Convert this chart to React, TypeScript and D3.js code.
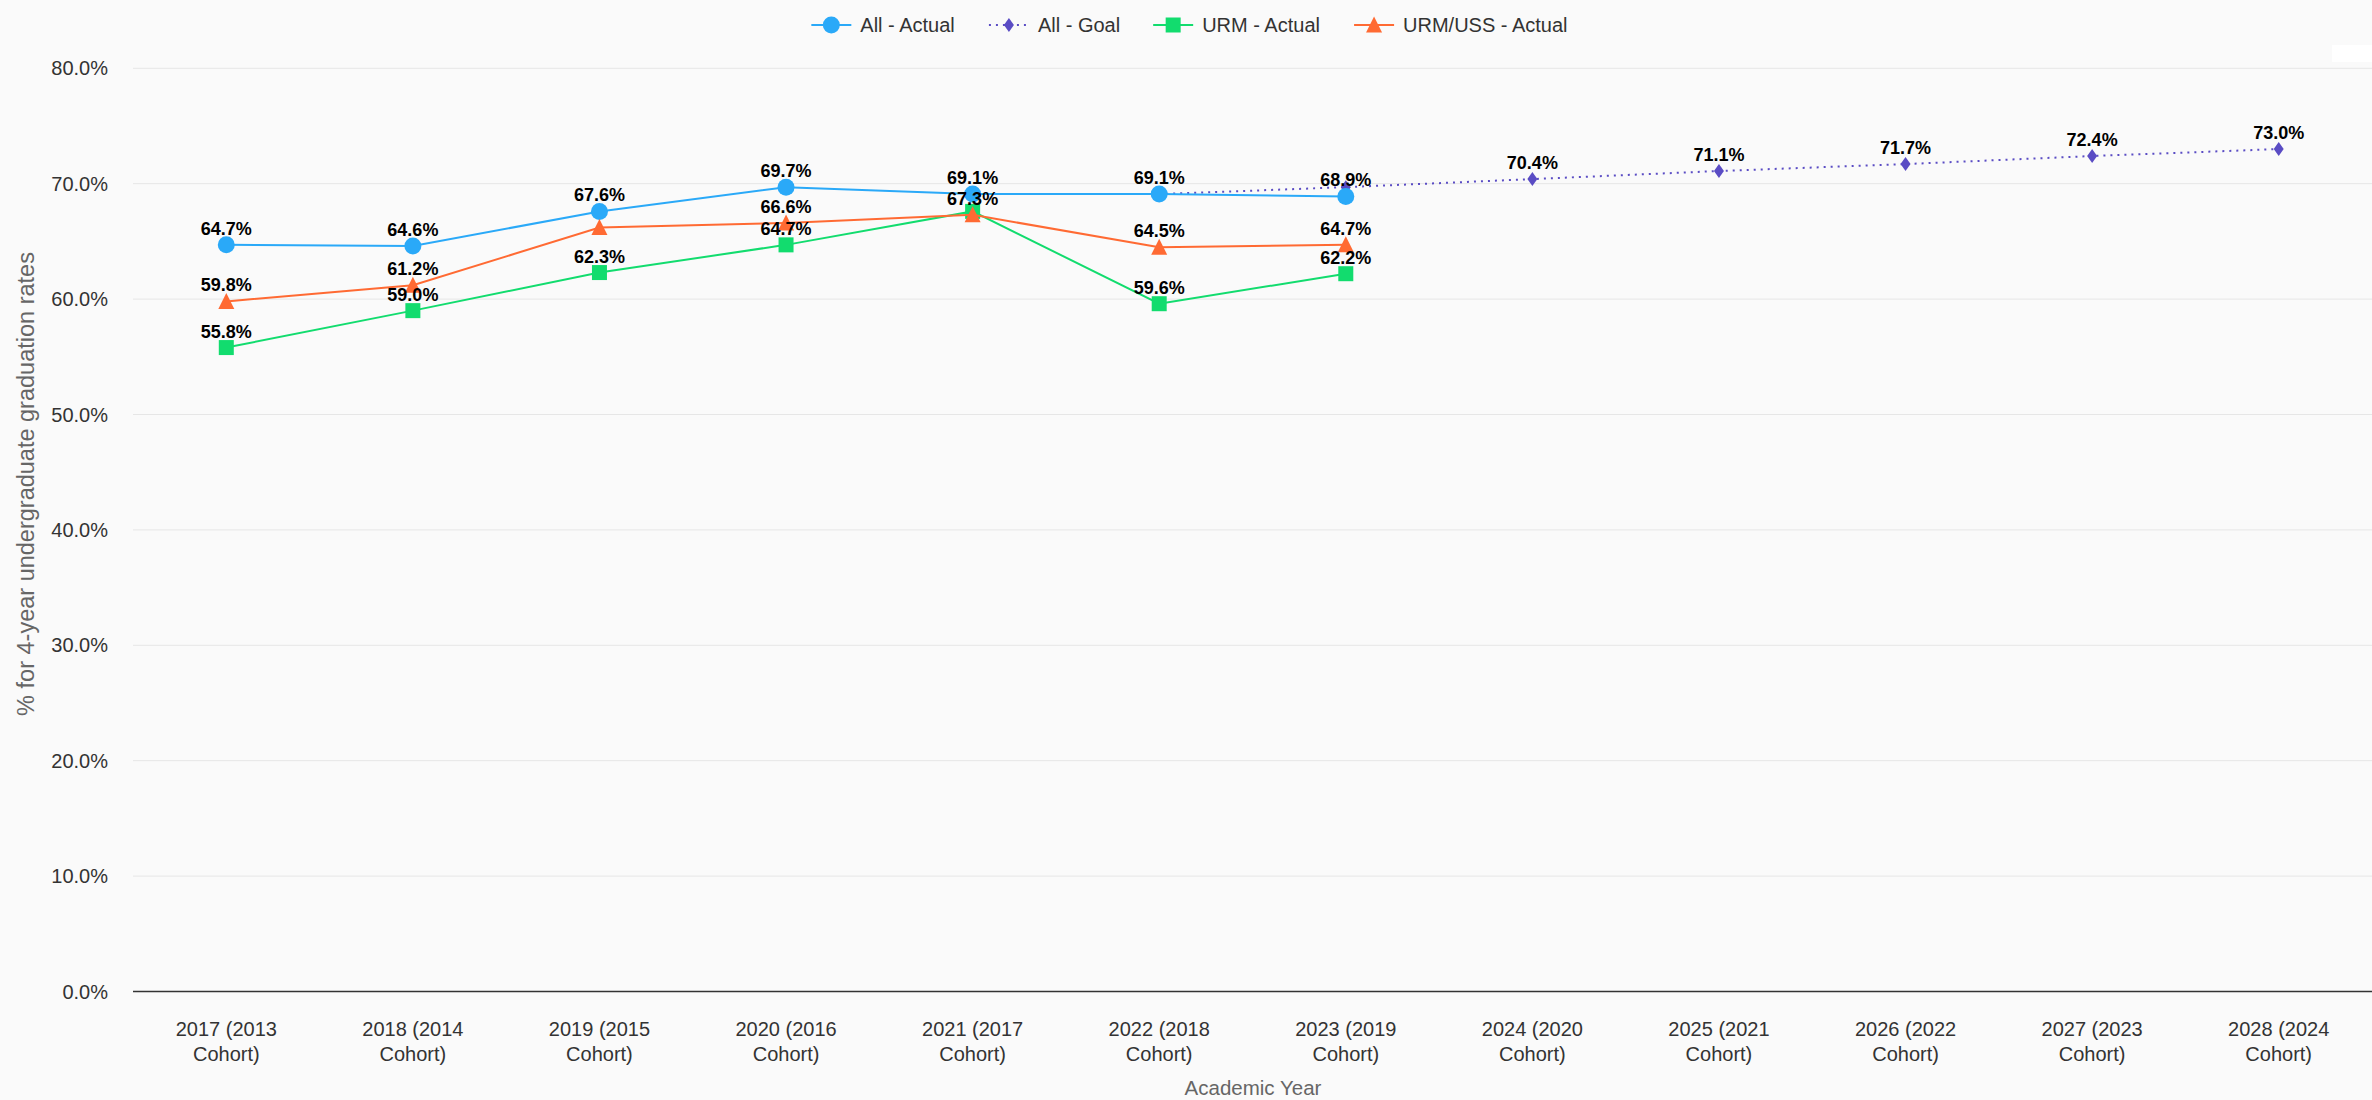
import { useMemo } from "react";
import * as d3 from "d3";

const categories = [
  "2017 (2013 Cohort)",
  "2018 (2014 Cohort)",
  "2019 (2015 Cohort)",
  "2020 (2016 Cohort)",
  "2021 (2017 Cohort)",
  "2022 (2018 Cohort)",
  "2023 (2019 Cohort)",
  "2024 (2020 Cohort)",
  "2025 (2021 Cohort)",
  "2026 (2022 Cohort)",
  "2027 (2023 Cohort)",
  "2028 (2024 Cohort)",
];

const allActual = [64.7, 64.6, 67.6, 69.7, 69.1, 69.1, 68.9, null, null, null, null, null];
const allGoal = [null, null, null, null, null, 69.1, 69.7, 70.4, 71.1, 71.7, 72.4, 73.0];
const urmActual = [55.8, 59.0, 62.3, 64.7, 67.6, 59.6, 62.2, null, null, null, null, null];
const urmUssActual = [59.8, 61.2, 66.2, 66.6, 67.3, 64.5, 64.7, null, null, null, null, null];

const yTicks = [0, 10, 20, 30, 40, 50, 60, 70, 80];

const W = 2372;
const H = 1100;
const FONT = "'Liberation Sans', Arial, Helvetica, sans-serif";

type Sym = "circle" | "diamond" | "square" | "triangle";

const series: { name: string; values: (number | null)[]; color: string; symbol: Sym; dash?: string }[] = [
  { name: "All - Actual", values: allActual, color: "#2aa9f8", symbol: "circle" },
  { name: "All - Goal", values: allGoal, color: "#5a4cc4", symbol: "diamond", dash: "2,5" },
  { name: "URM - Actual", values: urmActual, color: "#12dc6e", symbol: "square" },
  { name: "URM/USS - Actual", values: urmUssActual, color: "#ff6a33", symbol: "triangle" },
];

// draw order: goal underneath, then the actual series
const drawOrder = [1, 0, 2, 3];

function marker(sym: Sym, x: number, y: number, color: string, key: string) {
  if (sym === "circle") return <circle key={key} cx={x} cy={y} r={8.5} fill={color} />;
  if (sym === "square")
    return <rect key={key} x={x - 7.5} y={y - 7.5} width={15} height={15} fill={color} />;
  if (sym === "triangle")
    return <path key={key} d={`M${x},${y - 8.5}L${x + 8},${y + 7.5}L${x - 8},${y + 7.5}Z`} fill={color} />;
  return <path key={key} d={`M${x},${y - 7}L${x + 5},${y}L${x},${y + 7}L${x - 5},${y}Z`} fill={color} />;
}

export default function App() {
  const x = d3.scalePoint<string>().domain(categories).range([133, W]).padding(0.5);
  const y = d3.scaleLinear().domain([0, 80]).range([991.5, 68.3]);
  const fmt = (v: number) => `${v.toFixed(1)}%`;

  const measure = useMemo(() => {
    const ctx = document.createElement("canvas").getContext("2d")!;
    return (t: string, font: string) => {
      ctx.font = font;
      return ctx.measureText(t).width;
    };
  }, []);

  // data labels with overlap hiding (earlier series win)
  const labelSize = 18;
  const labels: { x: number; y: number; text: string; w: number }[] = [];
  series.forEach((s) => {
    s.values.forEach((v, i) => {
      if (v == null) return;
      const cx = x(categories[i])!;
      const by = y(v) - 10;
      const text = fmt(v);
      const w = measure(text, `bold ${labelSize}px ${FONT}`);
      const box = { x0: cx - w / 2, x1: cx + w / 2, y0: by - 19, y1: by };
      const hit = labels.some((l) => {
        const b = { x0: l.x - l.w / 2, x1: l.x + l.w / 2, y0: l.y - 19, y1: l.y };
        return box.x0 < b.x1 && box.x1 > b.x0 && box.y0 < b.y1 && box.y1 > b.y0;
      });
      if (!hit) labels.push({ x: cx, y: by, text, w });
    });
  });

  // legend layout
  const legendFont = `20px ${FONT}`;
  const itemWidths = series.map((s) => 49 + measure(s.name, legendFont));
  const gap = 33;
  const total = d3.sum(itemWidths) + gap * (series.length - 1);
  let lx = 1190 - total / 2;
  const legendItems = series.map((s, i) => {
    const start = lx;
    lx += itemWidths[i] + gap;
    return { s, start };
  });

  const line = d3
    .line<number | null>()
    .defined((d) => d != null)
    .x((_, i) => x(categories[i])!)
    .y((d) => y(d as number));

  return (
    <svg
      width={W}
      height={H}
      style={{ position: "absolute", left: 0, top: 0, fontFamily: FONT }}
    >
      <rect width={W} height={H} fill="#fafafa" />
      <rect x={2332} y={45} width={40} height={17} fill="#ffffff" />

      {/* legend */}
      {legendItems.map(({ s, start }) => (
        <g key={s.name}>
          <line
            x1={start}
            x2={start + 40}
            y1={25}
            y2={25}
            stroke={s.color}
            strokeWidth={2}
            strokeDasharray={s.dash}
          />
          {marker(s.symbol, start + 20, 25, s.color, "m")}
          <text x={start + 49} y={32} fontSize={20} fill="#333333">
            {s.name}
          </text>
        </g>
      ))}

      {/* grid */}
      {yTicks.map((t) => (
        <g key={t}>
          {t > 0 && <line x1={133} x2={W} y1={y(t)} y2={y(t)} stroke="#e6e6e6" strokeWidth={1} />}
          <text x={108} y={y(t) + 7} fontSize={20} textAnchor="end" fill="#333333">
            {fmt(t)}
          </text>
        </g>
      ))}
      <line x1={133} x2={W} y1={y(0)} y2={y(0)} stroke="#333333" strokeWidth={1.5} />

      {/* x labels */}
      {categories.map((c) => {
        const [a, b] = c.split(" Cohort");
        return (
          <text key={c} x={x(c)} y={1036} fontSize={20} textAnchor="middle" fill="#333333">
            <tspan x={x(c)}>{a}</tspan>
            <tspan x={x(c)} dy={25}>{"Cohort" + b}</tspan>
          </text>
        );
      })}

      <text x={1253} y={1095} fontSize={20.5} textAnchor="middle" fill="#666666">
        Academic Year
      </text>
      <text
        transform="translate(34,484) rotate(-90)"
        fontSize={23.5}
        textAnchor="middle"
        fill="#666666"
      >
        % for 4-year undergraduate graduation rates
      </text>

      {/* series */}
      {drawOrder.map((si) => {
        const s = series[si];
        return (
          <g key={s.name}>
            <path
              d={line(s.values) || ""}
              fill="none"
              stroke={s.color}
              strokeWidth={2}
              strokeDasharray={s.dash}
            />
            {s.values.map((v, i) =>
              v == null ? null : marker(s.symbol, x(categories[i])!, y(v), s.color, String(i))
            )}
          </g>
        );
      })}

      {/* data labels */}
      {labels.map((l, i) => (
        <text
          key={i}
          x={l.x}
          y={l.y}
          fontSize={labelSize}
          fontWeight="bold"
          textAnchor="middle"
          fill="#000000"
        >
          {l.text}
        </text>
      ))}
    </svg>
  );
}
